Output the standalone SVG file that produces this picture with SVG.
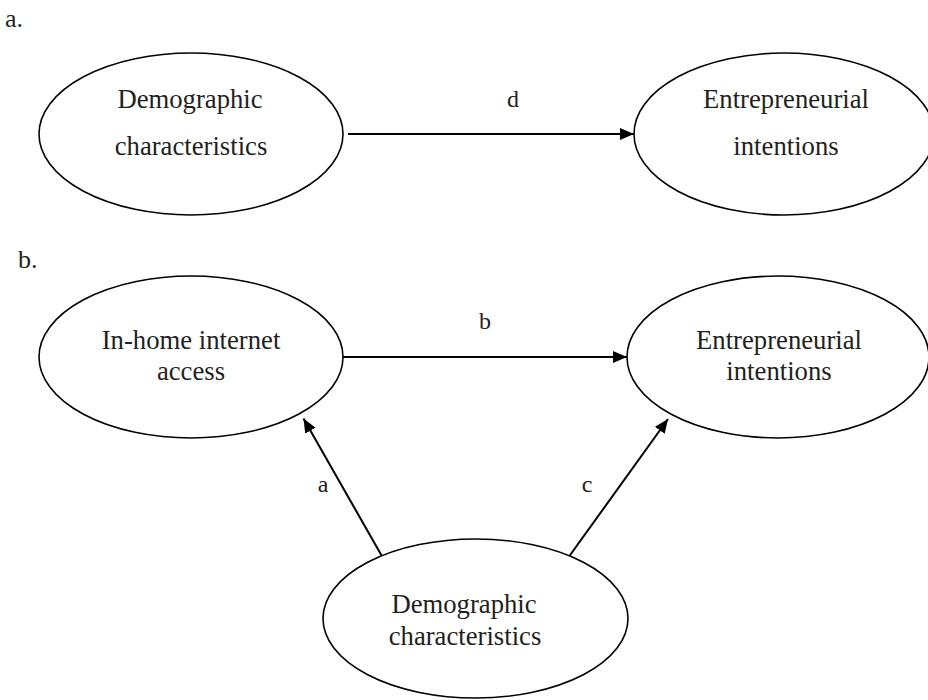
<svg xmlns="http://www.w3.org/2000/svg" width="928" height="700" viewBox="0 0 928 700">
<style>
.node ellipse{fill:#fff;stroke:#000;stroke-width:1.6}
.t{font-family:"Liberation Serif","Times New Roman",serif;font-size:26.7px;fill:#231f20;text-anchor:middle}
.lbl{font-family:"Liberation Serif","Times New Roman",serif;font-size:24px;fill:#231f20;text-anchor:middle}
.panel{font-family:"Liberation Serif","Times New Roman",serif;font-size:26px;fill:#231f20}
.edges line{stroke:#000;stroke-width:2}
</style>
<defs>
<marker id="ah" markerUnits="userSpaceOnUse" markerWidth="15" markerHeight="13" refX="14" refY="6" orient="auto">
<path d="M0,0 L14,6 L0,12 z" fill="#000"/>
</marker>
</defs>
<rect width="928" height="700" fill="#fff"/>
<text class="panel" x="5" y="27">a.</text>
<text class="panel" x="18" y="268">b.</text>
<g class="edges" id="connectors">
<line x1="348" y1="134" x2="634" y2="134" marker-end="url(#ah)"/>
<line x1="343" y1="357" x2="627" y2="357" marker-end="url(#ah)"/>
<line x1="383" y1="558" x2="303.5" y2="418.5" marker-end="url(#ah)"/>
<line x1="568" y1="558" x2="668" y2="419" marker-end="url(#ah)"/>
<text class="lbl" x="513" y="107">d</text>
<text class="lbl" x="485" y="329">b</text>
<text class="lbl" x="323" y="492">a</text>
<text class="lbl" x="587" y="492">c</text>
</g>
<g class="node" id="a-demographic">
<ellipse cx="191" cy="134" rx="152" ry="81"/>
<text class="t" x="190" y="108">Demographic</text>
<text class="t" x="191" y="155">characteristics</text>
</g>
<g class="node" id="a-intentions">
<ellipse cx="784" cy="134" rx="150" ry="81"/>
<text class="t" x="786" y="108">Entrepreneurial</text>
<text class="t" x="786" y="155">intentions</text>
</g>
<g class="node" id="b-internet">
<ellipse cx="191" cy="357" rx="152" ry="81"/>
<text class="t" x="191" y="349">In-home internet</text>
<text class="t" x="191" y="380">access</text>
</g>
<g class="node" id="b-intentions">
<ellipse cx="778" cy="357" rx="151" ry="81"/>
<text class="t" x="779" y="349">Entrepreneurial</text>
<text class="t" x="779" y="380">intentions</text>
</g>
<g class="node" id="b-demographic">
<ellipse cx="475.5" cy="618.5" rx="152.5" ry="79.5"/>
<text class="t" x="464" y="613">Demographic</text>
<text class="t" x="465" y="645">characteristics</text>
</g>
</svg>
